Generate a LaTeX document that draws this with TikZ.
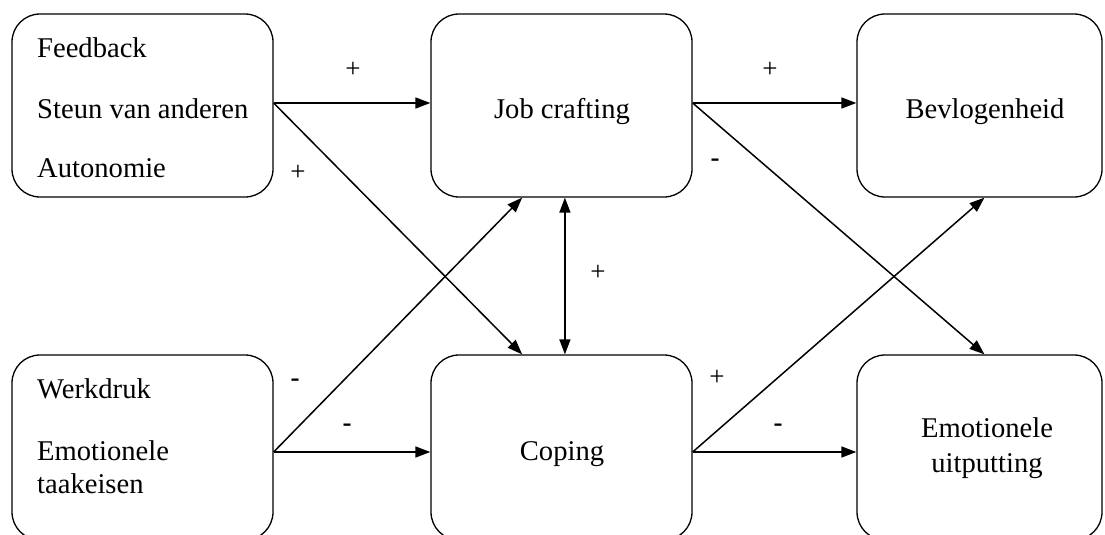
\documentclass[tikz,border=0pt]{standalone}
\usepackage{fontspec}
\setmainfont{Liberation Serif}
\usetikzlibrary{arrows.meta,calc}
\begin{document}
\begin{tikzpicture}[x=1pt,y=-1pt,
  box/.style={draw, line width=1.3pt, rounded corners=28pt, inner sep=0pt, minimum height=183pt},
  boxw/.style={box, minimum width=261pt},
  boxr/.style={box, minimum width=245pt},
  txt/.style={font=\fontsize{28.6}{34}\selectfont, inner sep=0pt},
  lbl/.style={font=\fontsize{27}{30}\selectfont, inner sep=0pt},
  mlbl/.style={font=\fontsize{27}{30}\selectfont\bfseries, inner sep=0pt},
  arr/.style={line width=1.5pt, -{Triangle[length=15pt,width=11pt]}},
  darr/.style={line width=1.5pt, {Triangle[length=15pt,width=11pt]}-{Triangle[length=15pt,width=11pt]}}]
\useasboundingbox (0,0) rectangle (1105,535);
% boxes
\node[boxw] (A) at (142.5,105.5) {};
\node[boxw] (JC) at (561.5,105.5) {};
\node[boxr] (B) at (979.5,105.5) {};
\node[boxw, minimum height=185pt] (W) at (142.5,447.5) {};
\node[boxw, minimum height=185pt] (C) at (561.5,447.5) {};
\node[boxr, minimum height=185pt] (E) at (979.5,447.5) {};
% texts
\node[txt, anchor=base west] (t1) at (37,57) {Feedback};
\node[txt, anchor=base west] (t2) at (37,118) {Steun van anderen};
\node[txt, anchor=base west] (t3) at (37,177) {Autonomie};
\node[txt, anchor=base] (t4) at (562,118) {Job crafting};
\node[txt, anchor=base] (t5) at (985,118) {Bevlogenheid};
\node[txt, anchor=base west] (t6) at (37,398) {Werkdruk};
\node[txt, anchor=base west] (t7) at (37,460) {Emotionele};
\node[txt, anchor=base west] (t8) at (37,493) {taakeisen};
\node[txt, anchor=base] (t9) at (562,460) {Coping};
\node[txt, anchor=base] (t10) at (987,437) {Emotionele};
\node[txt, anchor=base] (t11) at (987,472) {uitputting};
% anchor coordinates
\coordinate (As) at ($(A.east)+(0,-2.5)$);
\coordinate (JCw) at ($(JC.west)+(0,-2.5)$);
\coordinate (JCe) at ($(JC.east)+(0,-2.5)$);
\coordinate (Bw) at ($(B.west)+(0,-2.5)$);
\coordinate (Ws) at ($(W.east)+(0,4.5)$);
\coordinate (Cw) at ($(C.west)+(0,4.5)$);
\coordinate (Ce) at ($(C.east)+(0,4.5)$);
\coordinate (Ew) at ($(E.west)+(0,4.5)$);
\coordinate (Cn1) at ($(C.north west)!0.35!(C.north east)$);
\coordinate (JCs1) at ($(JC.south west)!0.35!(JC.south east)$);
\coordinate (JCs2) at ($(JC.south west)!0.513!(JC.south east)$);
\coordinate (Cn2) at ($(C.north west)!0.513!(C.north east)$);
\coordinate (En) at ($(E.north west)!0.52!(E.north east)$);
\coordinate (Bs) at ($(B.south west)!0.52!(B.south east)$);
% connectors
\draw[arr] (As) -- (JCw);
\draw[arr] (As) -- (Cn1);
\draw[arr] (JCe) -- (Bw);
\draw[arr] (JCe) -- (En);
\draw[arr] (Ws) -- (JCs1);
\draw[arr] (Ws) -- (Cw);
\draw[arr] (Ce) -- (Bs);
\draw[arr] (Ce) -- (Ew);
\draw[darr] (JCs2) -- (Cn2);
% labels
\node[lbl] (l1) at (353,70) {+};
\node[lbl] (l2) at (298,173) {+};
\node[lbl] (l3) at (770,70) {+};
\node[mlbl] (l4) at (715,163) {-};
\node[mlbl] (l5) at (295,383) {-};
\node[mlbl] (l6) at (347,428) {-};
\node[lbl] (l7) at (598,273) {+};
\node[lbl] (l8) at (717,378) {+};
\node[mlbl] (l9) at (778,428) {-};
\end{tikzpicture}
\end{document}
